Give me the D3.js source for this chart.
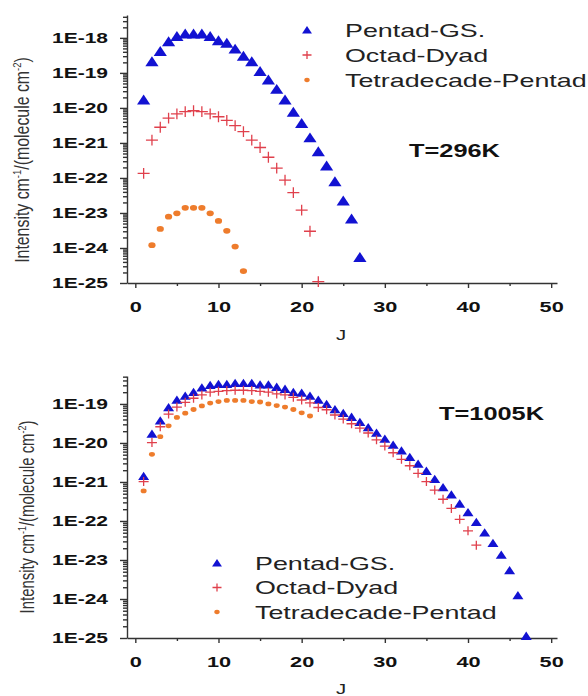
<!DOCTYPE html>
<html>
<head>
<meta charset="utf-8">
<script src="https://cdn.jsdelivr.net/npm/d3@7"></script>
<style>
  body { margin: 0; background: #fff; }
  svg { display: block; font-family: "Liberation Sans", Arial, sans-serif; }
</style>
</head>
<body>
<script>
// series names and colours
var seriesNames = ["Pentad-GS.", "Octad-Dyad", "Tetradecade-Pentad"];
var seriesColors = ["#1212d2", "#e0404c", "#ee7c2c"];
var seriesSymbols = ["triangle", "cross", "dot"];

var xTicks = [0, 10, 20, 30, 40, 50];

// T = 296 K, intensities by J (first J given separately)
var top296Pentad = [1.7e-20, 2.1e-19, 4.1e-19, 7.8e-19, 1.1e-18, 1.3e-18, 1.3e-18, 1.3e-18, 1.1e-18, 8.3e-19,
  7.1e-19, 4.8e-19, 3.0e-19, 2.1e-19, 1.1e-19, 6.3e-20, 3.4e-20, 1.7e-20, 7.6e-21, 3.6e-21,
  1.4e-21, 5.6e-22, 2.2e-22, 7.8e-23, 2.2e-23, 6.8e-24, 5.4e-25];
var top296Octad = [1.35e-22, 1.2e-21, 2.8e-21, 5.1e-21, 6.8e-21, 7.8e-21, 8.3e-21, 7.8e-21, 6.8e-21, 5.6e-21,
  4.4e-21, 3.1e-21, 2.1e-21, 1.2e-21, 7.4e-22, 3.9e-22, 1.9e-22, 8.7e-23, 3.8e-23, 1.2e-23,
  3.0e-24, 1.1e-25];
var top296Tetra = [1.2e-24, 3.5e-24, 7.8e-24, 9.8e-24, 1.4e-23, 1.4e-23, 1.4e-23, 9.8e-24, 5.9e-24, 3.1e-24,
  1.1e-24, 2.2e-25];
var top296FirstJ = [1, 1, 2];

// T = 1005 K
var bot1005Pentad = [1.4e-21, 1.7e-20, 3.7e-20, 8.1e-20, 1.26e-19, 1.6e-19, 2.0e-19, 2.6e-19, 3.0e-19, 3.2e-19,
  3.2e-19, 3.4e-19, 3.4e-19, 3.4e-19, 3.1e-19, 3.1e-19, 2.7e-19, 2.4e-19, 2.0e-19, 1.9e-19,
  1.6e-19, 1.26e-19, 9.8e-20, 7.2e-20, 5.8e-20, 4.6e-20, 3.4e-20, 2.5e-20, 1.8e-20, 1.26e-20,
  8.9e-21, 6.3e-21, 4.3e-21, 2.9e-21, 1.9e-21, 1.17e-21, 7.2e-22, 4.7e-22, 2.75e-22, 1.66e-22,
  9.3e-23, 5.0e-23, 2.7e-23, 1.35e-23, 5.4e-24, 1.23e-24, 1.12e-25];
var bot1005Octad = [1.02e-21, 1.02e-20, 2.6e-20, 5.5e-20, 8.3e-20, 1.1e-19, 1.4e-19, 1.7e-19, 2.0e-19, 2.1e-19,
  2.2e-19, 2.24e-19, 2.24e-19, 2.2e-19, 2.1e-19, 2.0e-19, 1.8e-19, 1.7e-19, 1.48e-19, 1.26e-19,
  1.07e-19, 8.1e-20, 7.1e-20, 5.2e-20, 4.1e-20, 3.1e-20, 2.4e-20, 1.8e-20, 1.2e-20, 8.3e-21,
  5.6e-21, 3.8e-21, 2.6e-21, 1.66e-21, 1.02e-21, 6.2e-22, 3.6e-22, 2.1e-22, 1.1e-22, 5.6e-23,
  2.4e-23];
var bot1005Tetra = [5.9e-22, 5.1e-21, 1.45e-20, 2.75e-20, 4.5e-20, 5.8e-20, 7.2e-20, 8.9e-20, 1.05e-19, 1.15e-19,
  1.23e-19, 1.23e-19, 1.23e-19, 1.15e-19, 1.12e-19, 1.0e-19, 9.1e-20, 8.3e-20, 7.2e-20, 5.9e-20,
  4.9e-20];
var bot1005FirstJ = [1, 1, 1];

var width = 588, height = 696;

var svg = d3.select("body").append("svg")
  .attr("width", width)
  .attr("height", height);

// the source picture is stretched sideways, so text gets widened too
function widen(sel, k) {
  sel.each(function () {
    var w = this.getComputedTextLength();
    d3.select(this).attr("textLength", w * k).attr("lengthAdjust", "spacingAndGlyphs");
  });
}

function symbolPath(kind, s) {
  if (kind == "triangle") {
    return "M0," + (-s * 0.45) + "L" + (s * 0.55) + "," + (s * 0.38) + "L" + (-s * 0.55) + "," + (s * 0.38) + "Z";
  }
  if (kind == "cross") {
    return "M" + (-s * 0.5) + ",0H" + (s * 0.5) + "M0," + (-s * 0.45) + "V" + (s * 0.45);
  }
  return null;
}

function drawMarker(g, kind, color, s) {
  if (kind == "dot") {
    g.append("ellipse").attr("rx", s * 0.3).attr("ry", s * 0.24).style("fill", color);
  } else if (kind == "triangle") {
    g.append("path").attr("d", symbolPath(kind, s)).style("fill", color);
  } else {
    g.append("path").attr("d", symbolPath(kind, s))
      .style("fill", "none").style("stroke", color).style("stroke-width", 1.3);
  }
}

function drawPanel(p) {
  var x = d3.scaleLinear().domain([-1, 50.7]).range([127, 557]);
  var y = d3.scaleLog().domain([1e-25, p.yTop]).range([p.y0, p.y1]);

  var g = svg.append("g");

  // minor ticks first
  var decades = [], minors = [];
  for (var e = -25; Math.pow(10, e) <= p.yTop; e++) {
    decades.push(Math.pow(10, e));
    for (var m = 2; m < 10; m++) {
      if (m * Math.pow(10, e) <= p.yTop) minors.push(m * Math.pow(10, e));
    }
  }

  g.append("g")
    .attr("transform", "translate(127,0)")
    .call(d3.axisLeft(y).tickValues(minors).tickSize(4).tickFormat("").tickSizeOuter(0))
    .call(a => a.select(".domain").remove());

  var yAxis = g.append("g")
    .attr("class", "yaxis")
    .attr("transform", "translate(127,0)")
    .call(d3.axisLeft(y).tickValues(decades).tickSize(7).tickPadding(12).tickSizeOuter(0)
      .tickFormat(d => "1E" + Math.round(Math.log10(d))));

  g.append("g")
    .attr("transform", "translate(0," + p.y0 + ")")
    .call(d3.axisBottom(x).tickValues([5, 15, 25, 35, 45]).tickSize(3).tickFormat("").tickSizeOuter(0))
    .call(a => a.select(".domain").remove());

  var xAxis = g.append("g")
    .attr("transform", "translate(0," + p.y0 + ")")
    .call(d3.axisBottom(x).tickValues(xTicks).tickSize(5).tickPadding(14).tickSizeOuter(0));

  g.selectAll(".domain, .tick line")
    .style("stroke", "#333")
    .style("stroke-width", 1.4);

  g.selectAll(".tick text")
    .style("font-size", "14px")
    .style("font-weight", "bold")
    .style("fill", "#111");
  widen(yAxis.selectAll(".tick text"), 1.5);
  widen(xAxis.selectAll(".tick text"), 1.55);

  // points
  p.series.forEach(function (vals, k) {
    var pts = g.append("g").selectAll("g")
      .data(vals)
      .enter()
      .append("g")
      .attr("transform", (d, i) => "translate(" + x(p.firstJ[k] + i) + "," + y(d) + ")");
    pts.each(function () {
      drawMarker(d3.select(this), seriesSymbols[k], seriesColors[k], p.markSize);
    });
  });

  // y label with superscripts
  var lab = g.append("text")
    .attr("text-anchor", "middle")
    .style("font-size", "15px")
    .style("fill", "#333");
  lab.append("tspan").text("Intensity cm");
  lab.append("tspan").attr("dy", -6).style("font-size", "9px").text("-1");
  lab.append("tspan").attr("dy", 6).text("/(molecule cm");
  lab.append("tspan").attr("dy", -6).style("font-size", "9px").text("-2");
  lab.append("tspan").attr("dy", 6).text(")");
  var natural = lab.node().getComputedTextLength();
  lab.attr("transform", "translate(" + p.labX + "," + p.labY + ") rotate(-90) scale(" + (p.labLen / natural) + ",1.3)");

  // x label
  var jl = g.append("text")
    .attr("x", 336)
    .attr("y", p.jY)
    .style("font-size", "14px")
    .style("fill", "#222")
    .text("J");
  widen(jl, 1.45);

  // temperature
  var tl = g.append("text")
    .attr("x", p.tX)
    .attr("y", p.tY)
    .style("font-size", "18.5px")
    .style("font-weight", "bold")
    .style("fill", "#111")
    .text(p.tText);
  widen(tl, 1.37);

  // legend
  var legend = g.append("g").selectAll("g")
    .data(seriesNames)
    .enter()
    .append("g")
    .attr("transform", (d, i) => "translate(" + p.legX + "," + (p.legY + i * p.legStep) + ")");
  legend.each(function (d, i) {
    drawMarker(d3.select(this), seriesSymbols[i], seriesColors[i], 9);
  });
  var lt = legend.append("text")
    .attr("x", p.legTextX - p.legX)
    .attr("y", 6.5)
    .style("font-size", "18.5px")
    .style("fill", "#222")
    .text(d => d);
  widen(lt, 1.45);
}

drawPanel({
  y0: 283, y1: 15, yTop: 4.5e-18,
  series: [top296Pentad, top296Octad, top296Tetra], firstJ: top296FirstJ,
  markSize: 12,
  labX: 29, labY: 160, labLen: 206,
  jY: 340,
  tX: 409, tY: 157, tText: "T=296K",
  legX: 307, legY: 30, legStep: 25, legTextX: 345
});

drawPanel({
  y0: 638, y1: 376, yTop: 5.2e-19,
  series: [bot1005Pentad, bot1005Octad, bot1005Tetra], firstJ: bot1005FirstJ,
  markSize: 10,
  labX: 34, labY: 517, labLen: 193,
  jY: 694,
  tX: 439, tY: 420, tText: "T=1005K",
  legX: 217, legY: 563, legStep: 24.5, legTextX: 255
});
</script>
</body>
</html>
